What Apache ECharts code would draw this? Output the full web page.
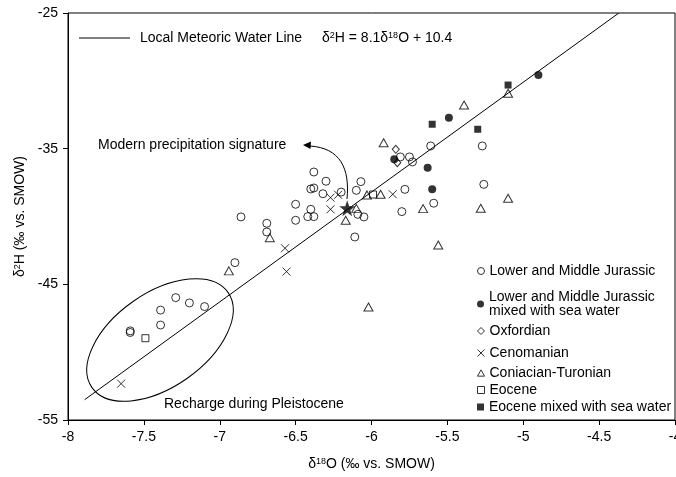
<!DOCTYPE html>
<html><head><meta charset="utf-8">
<script src="https://cdn.jsdelivr.net/npm/echarts@6/dist/echarts.min.js"></script>
<style>html,body{margin:0;padding:0;background:#fff}#c{width:676px;height:477px}</style>
</head><body><div id="c"></div>
<script>
const FONT = "'Liberation Sans', Arial, sans-serif";

// Axis settings
const xMin = -8, xMax = -4, xStep = 0.5;
const yMin = -55, yMax = -25, yStep = 10;

// Local Meteoric Water Line (δ2H = 8.1 δ18O + 10.4), drawn between end points
const lmwl = [[-7.89, -53.5], [-4.37, -25.0]];

// Series values [δ18O, δ2H]
const lowerMiddleJurassic = [
  [-7.59, -48.43], [-7.59, -48.55], [-7.39, -46.9], [-7.39, -48.0], [-7.29, -45.98],
  [-7.20, -46.37], [-7.10, -46.64], [-6.90, -43.40], [-6.86, -40.03], [-6.69, -40.5],
  [-6.69, -41.14], [-6.50, -39.10], [-6.50, -40.28], [-6.40, -39.47], [-6.42, -40.01],
  [-6.38, -40.01], [-6.38, -36.72], [-6.40, -37.97], [-6.38, -37.9], [-6.30, -37.40],
  [-6.32, -38.32], [-6.20, -38.2], [-6.11, -41.51], [-6.07, -37.43], [-6.10, -38.07],
  [-6.09, -39.84], [-6.05, -40.03], [-5.78, -38.0], [-5.80, -39.64], [-5.59, -39.02],
  [-5.26, -37.63], [-5.81, -35.61], [-5.75, -35.61], [-5.73, -35.98], [-5.61, -34.80],
  [-5.27, -34.80]
];
const lowerMiddleJurassicSea = [
  [-5.85, -35.78], [-5.63, -36.40], [-5.60, -38.0], [-5.49, -32.72], [-4.90, -29.57]
];
const oxfordian = [[-5.84, -35.05], [-5.83, -36.03]];
const cenomanian = [
  [-7.65, -52.32], [-6.56, -44.06], [-6.57, -42.34], [-6.27, -38.61], [-6.27, -39.47],
  [-6.22, -38.4], [-5.86, -38.36]
];
const coniacianTuronian = [
  [-6.94, -44.01], [-6.67, -41.56], [-6.17, -40.28], [-6.10, -39.4], [-6.03, -38.41],
  [-5.94, -38.36], [-5.66, -39.42], [-5.28, -39.39], [-5.10, -38.65], [-5.56, -42.10],
  [-6.02, -46.67], [-5.92, -34.56], [-5.39, -31.78], [-5.10, -30.92]
];
const eocene = [[-7.49, -48.97], [-5.99, -38.38]];
const eoceneSea = [[-5.60, -33.2], [-5.30, -33.57], [-5.10, -30.31]];
const modernPrecipitation = [[-6.16, -39.39]];

const names = [
  'Lower and Middle Jurassic',
  'Lower and Middle Jurassic mixed with sea water',
  'Oxfordian',
  'Cenomanian',
  'Coniacian-Turonian',
  'Eocene',
  'Eocene mixed with sea water'
];
const legendLabels = [
  'Lower and Middle Jurassic',
  'Lower and Middle Jurassic\nmixed with sea water',
  'Oxfordian',
  'Cenomanian',
  'Coniacian-Turonian',
  'Eocene',
  'Eocene mixed with sea water'
];

const chart = echarts.init(document.getElementById('c'), null, {renderer: 'canvas'});

const hollow = {color: 'rgba(0,0,0,0)', borderColor: '#000', borderWidth: 1};
const solid = {color: '#000', borderColor: '#000', borderWidth: 0};
const STAR = 'path://M50,0L61.8,35.1L98.9,35.5L69.1,57.6L80.2,93L50,71.5L19.8,93L30.9,57.6L1.1,35.5L38.2,35.1Z';
const CROSS = 'path://M0,0L10,10M10,0L0,10';
const TRI = 'path://M5,0L10,9L0,9Z';

function sc(name, data, symbol, size, style) {
  return {
    type: 'scatter', name: name, data: data, symbol: symbol, symbolSize: size,
    itemStyle: style, z: 3, silent: true,
    emphasis: {disabled: true}
  };
}

const series = [
  {type: 'line', name: 'LMWL', data: lmwl, symbol: 'none', silent: true,
   lineStyle: {color: '#000', width: 1}, z: 2},
  sc(names[0], lowerMiddleJurassic, 'circle', 8, hollow),
  sc(names[1], lowerMiddleJurassicSea, 'circle', 8, solid),
  sc(names[2], oxfordian, 'diamond', [7, 8], hollow),
  sc(names[3], cenomanian, CROSS, 8, {color: 'rgba(0,0,0,0)', borderColor: '#000', borderWidth: 1}),
  sc(names[4], coniacianTuronian, TRI, [9, 8], hollow),
  sc(names[5], eocene, 'rect', 7, hollow),
  sc(names[6], eoceneSea, 'rect', 7, solid),
  sc('Modern precipitation signature', modernPrecipitation, STAR, 16, solid)
];

const legendCenters = [271, 304, 331, 353, 373, 390, 407];
const legendIcons = ['circle', 'circle', 'diamond', CROSS, TRI, 'rect', 'rect'];
const legendStyles = [hollow, solid, hollow, hollow, hollow, hollow, solid];
const legends = names.map((n, i) => {
  const two = legendLabels[i].indexOf('\n') >= 0;
  const lh = two ? 14 : 15;
  const h = two ? 28 : 15;
  return {
    data: [{name: n, icon: legendIcons[i]}],
    left: 477, top: legendCenters[i] - h / 2,
    padding: 0, itemWidth: 7, itemHeight: 7, itemGap: 0,
    selectedMode: false,
    itemStyle: legendStyles[i],
    formatter: () => legendLabels[i],
    textStyle: {fontFamily: FONT, fontSize: 14, color: '#000', lineHeight: lh, padding: [0, 0, 0, 0]}
  };
});

const rich = {s: {fontSize: 9, verticalAlign: 'top', fontFamily: FONT, color: '#000'}};

chart.setOption({
  animation: false,
  backgroundColor: '#fff',
  textStyle: {fontFamily: FONT},
  grid: {left: 68, right: 1, top: 13, bottom: 57, show: true, borderColor: '#000', borderWidth: 1,
         backgroundColor: 'transparent', containLabel: false, outerBoundsMode: 'none'},
  legend: legends,
  xAxis: {
    type: 'value', min: xMin, max: xMax, interval: xStep,
    name: 'δ{s|18}O (‰ vs. SMOW)', nameLocation: 'middle', nameGap: 37,
    nameTextStyle: {fontFamily: FONT, fontSize: 14, color: '#000', rich: rich},
    axisLine: {lineStyle: {color: '#000', width: 1}},
    axisTick: {show: true, length: 5, lineStyle: {color: '#000'}},
    axisLabel: {color: '#000', fontFamily: FONT, fontSize: 14, margin: 10, hideOverlap: false},
    splitLine: {show: false}
  },
  yAxis: {
    type: 'value', min: yMin, max: yMax, interval: yStep,
    name: 'δ{s|2}H (‰ vs. SMOW)', nameLocation: 'middle', nameGap: 40, nameRotate: 90,
    nameTextStyle: {fontFamily: FONT, fontSize: 14, color: '#000', rich: rich},
    axisLine: {show: true, lineStyle: {color: '#000', width: 1}},
    axisTick: {show: true, length: 5, lineStyle: {color: '#000'}},
    axisLabel: {color: '#000', fontFamily: FONT, fontSize: 14, margin: 10},
    splitLine: {show: false}
  },
  series: series,
  graphic: [
    {type: 'line', shape: {x1: 79, y1: 38, x2: 130, y2: 38}, style: {stroke: '#000', lineWidth: 1}, silent: true},
    {type: 'text', x: 140, y: 38, silent: true,
     style: {text: 'Local Meteoric Water Line', fontFamily: FONT, fontSize: 14, fill: '#000', verticalAlign: 'middle', align: 'left'}},
    {type: 'text', x: 322, y: 38, silent: true,
     style: {text: 'δ{s|2}H = 8.1δ{s|18}O + 10.4', fontFamily: FONT, fontSize: 14, fill: '#000', verticalAlign: 'middle', align: 'left', rich: rich}},
    {type: 'text', x: 98, y: 145, silent: true,
     style: {text: 'Modern precipitation signature', fontFamily: FONT, fontSize: 14, fill: '#000', verticalAlign: 'middle', align: 'left'}},
    {type: 'text', x: 164, y: 404, silent: true,
     style: {text: 'Recharge during Pleistocene', fontFamily: FONT, fontSize: 14, fill: '#000', verticalAlign: 'middle', align: 'left'}},
    {type: 'bezierCurve', silent: true,
     shape: {x1: 347, y1: 199, cpx1: 350, cpy1: 168, cpx2: 340, cpy2: 148, x2: 310, y2: 146},
     style: {stroke: '#000', lineWidth: 1, fill: null}},
    {type: 'polygon', silent: true,
     shape: {points: [[303, 145], [311, 141.5], [310.5, 149]]},
     style: {fill: '#000'}},
    {type: 'ellipse', silent: true, x: 160, y: 340, rotation: 35 * Math.PI / 180,
     shape: {cx: 0, cy: 0, rx: 83, ry: 47},
     style: {stroke: '#000', lineWidth: 1, fill: null}}
  ]
});
</script></body></html>
